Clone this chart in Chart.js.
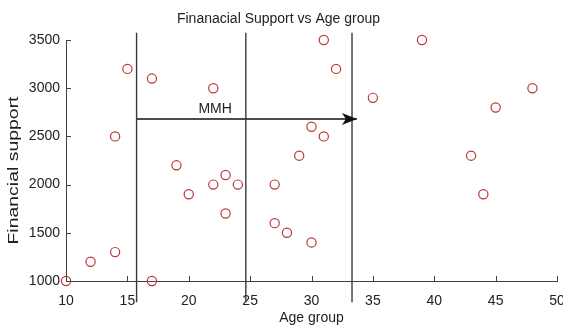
<!DOCTYPE html>
<html>
<head>
<meta charset="utf-8">
<script src="https://cdn.jsdelivr.net/npm/chart.js@4.4.1/dist/chart.umd.min.js"></script>
<style>
  html, body { margin: 0; padding: 0; background: #fff; }
  #wrap { width: 563px; height: 331px; }
</style>
</head>
<body>
<div id="wrap"><canvas id="c" width="563" height="331"></canvas></div>
<script>
// Survey points: age of the respondent and the financial support received
const ageGroup = [10, 12, 14, 14, 15, 17, 17, 19, 20, 22, 22, 23, 23, 24, 27, 27, 28, 29, 30, 30, 31, 31, 32, 35, 39, 43, 44, 45, 48];
const financialSupport = [1000, 1200, 2500, 1300, 3200, 3100, 1000, 2200, 1900, 3000, 2000, 2100, 1700, 2000, 2000, 1600, 1500, 2300, 2600, 1400, 3500, 2500, 3200, 2900, 3500, 2300, 1900, 2800, 3000];

// Axis ticks
const xTicks = [10, 15, 20, 25, 30, 35, 40, 45, 50];
const yTicks = [1000, 1500, 2000, 2500, 3000, 3500];

// Age boundaries of the MMH band and the vertical extent of the divider lines
const dividerAges = [15.75, 24.65, 33.3];
const dividerSupport = [780, 3575];

// MMH arrow: start / end age and the support level it sits on
const arrowAges = [15.7, 33.7];
const arrowSupport = 2680;
const arrowLabel = 'MMH';
const arrowLabelAt = [22.15, 2778];

const FONT = 'Liberation Sans, Arial, sans-serif';
const INK = '#222';
const AXIS = '#404040';

const points = ageGroup.map((a, i) => ({ x: a, y: financialSupport[i] }));

const dividerSets = dividerAges.map(a => ({
  data: [{ x: a, y: dividerSupport[0] }, { x: a, y: dividerSupport[1] }],
  showLine: true,
  borderColor: '#3a3a3a',
  borderWidth: 1.4,
  pointRadius: 0,
  clip: false
}));

const arrowSet = {
  data: [{ x: arrowAges[0], y: arrowSupport }, { x: arrowAges[1], y: arrowSupport }],
  showLine: true,
  borderColor: '#111',
  borderWidth: 1.5,
  pointRadius: 0,
  clip: false
};

// Arrowhead, arrow label, inward tick marks and the stretched y title
const decorations = {
  id: 'decorations',
  afterDatasetsDraw(chart) {
    const { ctx, scales: { x, y }, chartArea } = chart;
    ctx.save();

    // inward tick marks
    ctx.strokeStyle = AXIS;
    ctx.lineWidth = 1;
    ctx.beginPath();
    xTicks.forEach(v => {
      const px = Math.round(x.getPixelForValue(v)) + 0.5;
      ctx.moveTo(px, chartArea.bottom);
      ctx.lineTo(px, chartArea.bottom - 5);
    });
    yTicks.forEach(v => {
      const py = Math.round(y.getPixelForValue(v)) + 0.5;
      ctx.moveTo(chartArea.left, py);
      ctx.lineTo(chartArea.left + 5, py);
    });
    ctx.stroke();

    // arrowhead at the end of the MMH arrow
    const tx = x.getPixelForValue(arrowAges[1]);
    const ty = y.getPixelForValue(arrowSupport);
    ctx.fillStyle = '#111';
    ctx.beginPath();
    ctx.moveTo(tx, ty);
    ctx.lineTo(tx - 15, ty - 6);
    ctx.lineTo(tx - 11, ty);
    ctx.lineTo(tx - 15, ty + 6);
    ctx.closePath();
    ctx.fill();

    // arrow label
    ctx.fillStyle = INK;
    ctx.font = '14px ' + FONT;
    ctx.textAlign = 'center';
    ctx.textBaseline = 'middle';
    ctx.fillText(arrowLabel, x.getPixelForValue(arrowLabelAt[0]), y.getPixelForValue(arrowLabelAt[1]));

    // y axis title, rotated and drawn a little wide
    const title = 'Financial support';
    ctx.translate(14, (chartArea.top + chartArea.bottom) / 2 + 10);
    ctx.rotate(-Math.PI / 2);
    const w = ctx.measureText(title).width;
    ctx.scale(148 / w, 1);
    ctx.fillText(title, 0, 0);
    ctx.restore();
  }
};

new Chart(document.getElementById('c'), {
  type: 'scatter',
  data: {
    datasets: [
      {
        data: points,
        pointStyle: 'circle',
        pointRadius: 4.6,
        pointHoverRadius: 4.6,
        pointBorderWidth: 1.2,
        borderColor: '#b8373a',
        backgroundColor: 'rgba(0,0,0,0)',
        clip: false
      },
      ...dividerSets,
      arrowSet
    ]
  },
  options: {
    responsive: false,
    devicePixelRatio: 1,
    animation: false,
    events: [],
    layout: { padding: { left: 0, right: 6, top: 0, bottom: 0 } },
    plugins: {
      legend: { display: false },
      tooltip: { enabled: false },
      title: {
        display: true,
        text: 'Finanacial Support vs Age group',
        color: INK,
        font: { family: FONT, size: 14, weight: 'normal' },
        padding: { top: 11, bottom: 12.2 }
      }
    },
    scales: {
      x: {
        type: 'linear',
        min: 10,
        max: 50,
        afterBuildTicks: s => { s.ticks = xTicks.map(v => ({ value: v })); },
        afterFit: s => { s.height = 50; s.paddingLeft = 0; s.paddingRight = 0; },
        ticks: { color: INK, font: { family: FONT, size: 14 }, padding: 12, maxRotation: 0, autoSkip: false },
        grid: { drawOnChartArea: false, drawTicks: false },
        border: { color: AXIS, width: 1 },
        title: { display: true, text: 'Age group', color: INK, font: { family: FONT, size: 14 }, padding: { top: 0, bottom: 4 } }
      },
      y: {
        type: 'linear',
        min: 1000,
        max: 3500,
        afterBuildTicks: s => { s.ticks = yTicks.map(v => ({ value: v })); },
        afterFit: s => { s.width = 66; s.paddingTop = 0; s.paddingBottom = 0; },
        ticks: { color: INK, font: { family: FONT, size: 14 }, padding: 6, autoSkip: false, callback: v => String(v) },
        grid: { drawOnChartArea: false, drawTicks: false },
        border: { color: AXIS, width: 1 }
      }
    }
  },
  plugins: [decorations]
});
</script>
</body>
</html>
